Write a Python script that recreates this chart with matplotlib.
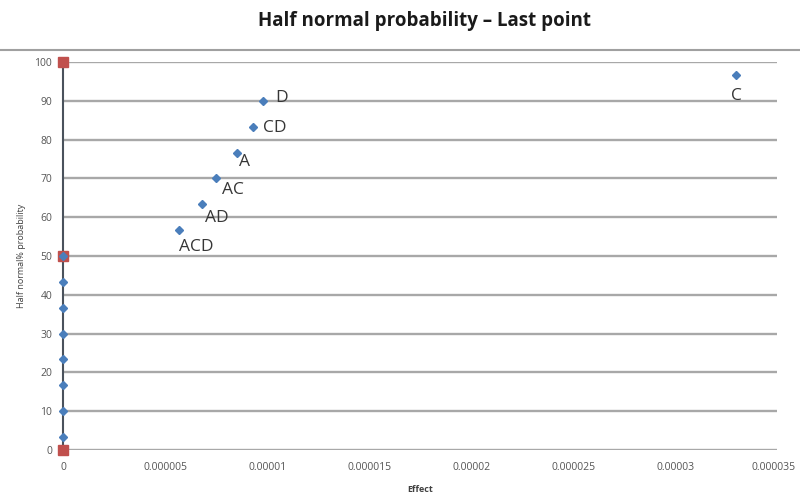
import matplotlib
matplotlib.use("Agg")
import matplotlib.pyplot as plt
from matplotlib.lines import Line2D

# Half-normal plot of the 15 effects (probability in %)
effect_names = ["", "", "", "", "", "", "", "", "ACD", "AD", "AC", "A", "CD", "D", "C"]
effect_values = [0, 0, 0, 0, 0, 0, 0, 0,
                 5.7e-6, 6.8e-6, 7.5e-6, 8.5e-6, 9.3e-6, 9.8e-6, 3.3e-5]
probabilities = [3.33, 10.0, 16.67, 23.33, 30.0, 36.67, 43.33, 50.0,
                 56.67, 63.33, 70.0, 76.67, 83.33, 90.0, 96.67]

# Reference series along the vertical axis
ref_x = [0, 0, 0]
ref_y = [0, 50, 100]

x_ticks = [0, 0.000005, 0.00001, 0.000015, 0.00002, 0.000025, 0.00003, 0.000035]
x_tick_labels = ["0", "0.000005", "0.00001", "0.000015", "0.00002", "0.000025", "0.00003", "0.000035"]
y_ticks = [0, 10, 20, 30, 40, 50, 60, 70, 80, 90, 100]

# label offsets in points (dx, dy)
label_offsets = {
    "ACD": (0, -12), "AD": (2, -10), "AC": (4, -8), "A": (2, -7),
    "CD": (7, -1), "D": (9, 2), "C": (-4, -15),
}

plt.rcParams["font.family"] = ["Open Sans", "DejaVu Sans"]

fig = plt.figure(figsize=(8, 5), dpi=100)
ax = fig.add_axes([0.079, 0.10, 0.8925, 0.776])

for y in y_ticks:
    ax.axhline(y, color="#a8a8a8", lw=1.7, zorder=1)

ax.plot(ref_x, ref_y, color="#4a525c", lw=1.5, marker="s", markersize=7,
        markerfacecolor="#c0504d", markeredgecolor="#c0504d", zorder=3, clip_on=False)
ax.plot(effect_values, probabilities, linestyle="none", marker="D", markersize=4.5,
        color="#4a7ebb", zorder=4, clip_on=False)

for name, xv, yv in zip(effect_names, effect_values, probabilities):
    if name:
        dx, dy = label_offsets[name]
        ax.annotate(name, (xv, yv), xytext=(dx, dy), textcoords="offset points",
                    fontsize=12.5, color="#363636", ha="left", va="center")

ax.set_xlim(0, 0.000035)
ax.set_ylim(0, 100)
ax.set_xticks(x_ticks)
# last label is drawn separately so it stays inside the figure edge
ax.set_xticklabels(x_tick_labels[:-1] + [""])
ax.set_yticks(y_ticks)
ax.tick_params(axis="both", length=0, labelsize=7.5, labelcolor="#555555")
ax.tick_params(axis="x", pad=9)
ax.tick_params(axis="y", pad=8)
ax.annotate(x_tick_labels[-1], xy=(x_ticks[-1], 0), xycoords=("data", "axes fraction"),
            xytext=(13.5, -9), textcoords="offset points", ha="right", va="top",
            fontsize=7.5, color="#555555")
for s in ax.spines.values():
    s.set_visible(False)

ax.set_xlabel("Effect", fontsize=6.5, fontweight="bold", color="#404040", labelpad=8)
ax.set_ylabel("Half normal% probability", fontsize=6.5, color="#404040", labelpad=6)

fig.text(0.53, 0.958, "Half normal probability \u2013 Last point", ha="center", va="center",
         fontsize=13.5, fontweight="bold", color="#1a1a1a")
fig.add_artist(Line2D([0, 1], [0.90, 0.90], color="#a0a0a0", lw=1.5,
                      transform=fig.transFigure))

fig.savefig("out.png", dpi=100, facecolor="white")
